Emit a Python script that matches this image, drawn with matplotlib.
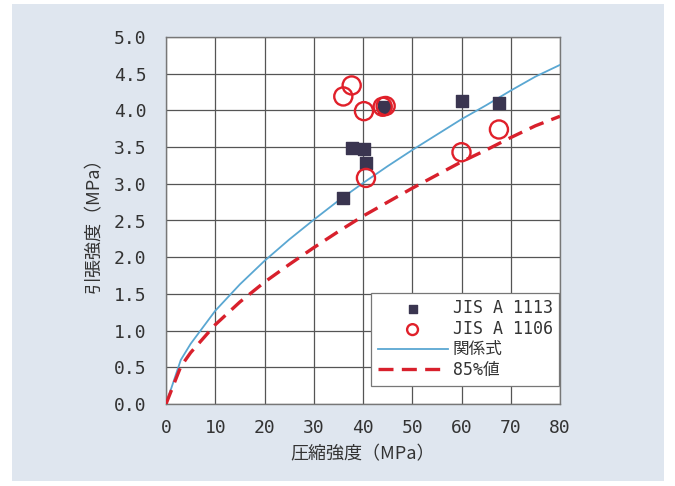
import numpy as np
import matplotlib.pyplot as plt
from matplotlib.patches import Rectangle

# 圧縮強度 - 引張強度
jis1113_x = [36.0, 37.8, 40.2, 40.6, 44.3, 60.0, 67.6]
jis1113_y = [2.80, 3.49, 3.48, 3.29, 4.05, 4.13, 4.10]

jis1106_x = [36.0, 37.7, 40.2, 40.6, 44.0, 44.6, 60.0, 67.6]
jis1106_y = [4.19, 4.34, 3.99, 3.08, 4.05, 4.06, 3.43, 3.74]

curve_x = [0, 3, 5, 10, 15, 20, 25, 30, 35, 40, 45, 50, 55, 60, 65, 70, 75, 80]
rel_y = [0, 0.60, 0.82, 1.27, 1.63, 1.95, 2.24, 2.51, 2.77, 3.01, 3.24, 3.46, 3.67,
         3.88, 4.07, 4.27, 4.46, 4.62]
p85_y = [0, 0.51, 0.70, 1.08, 1.39, 1.66, 1.90, 2.13, 2.35, 2.56, 2.75, 2.94, 3.12,
         3.30, 3.46, 3.63, 3.79, 3.92]

num_font = ['DejaVu Sans Mono', 'Noto Sans CJK JP']
jp_font = ['Noto Sans CJK JP', 'DejaVu Sans']

fig = plt.figure(figsize=(6.75, 4.86), dpi=100)
fig.patch.set_facecolor('white')
fig.add_artist(Rectangle((12 / 675, 1 - 481 / 486), 652 / 675, 477 / 486,
                         transform=fig.transFigure, facecolor='#dfe6ef',
                         edgecolor='none', zorder=-10))

ax = fig.add_axes([166 / 675, 1 - 404 / 486, 394 / 675, 367 / 486])
ax.set_zorder(1)
ax.set_facecolor('white')

ax.plot(curve_x, rel_y, color='#5aa7d2', lw=1.3, label='関係式', zorder=3)
ax.plot(curve_x, p85_y, color='#d8202c', lw=2.4, ls=(0, (4.5, 2.5)), label='85%値', zorder=3)
ax.scatter(jis1113_x, jis1113_y, marker='s', s=75, color='#3a3550', label='JIS A 1113', zorder=4)
ax.scatter(jis1106_x, jis1106_y, marker='o', s=170, facecolors='none', edgecolors='#e0202a',
           linewidths=1.7, label='JIS A 1106', zorder=5)

ax.set_xlim(0, 80)
ax.set_ylim(0, 5)
ax.set_xticks(np.arange(0, 81, 10))
ax.set_yticks(np.arange(0, 5.01, 0.5))
ax.set_yticklabels(['%.1f' % v for v in np.arange(0, 5.01, 0.5)])
ax.grid(True, color='#555555', lw=0.9)
ax.tick_params(length=0, labelsize=13, labelcolor='#333333')
ax.tick_params(axis='x', pad=11)
ax.tick_params(axis='y', pad=14)
for lab in ax.get_xticklabels() + ax.get_yticklabels():
    lab.set_family(num_font)
for sp in ax.spines.values():
    sp.set_color('#777777')
    sp.set_linewidth(1.0)

ax.set_xlabel('圧縮強度（MPa）', family=jp_font, fontsize=13, color='#333333', labelpad=6)
ax.set_ylabel('引張強度（MPa）', family=jp_font, fontsize=13, color='#333333', labelpad=8)

h, l = ax.get_legend_handles_labels()
order = [2, 3, 0, 1]
leg = ax.legend([h[i] for i in order], [l[i] for i in order], loc='lower left',
                bbox_to_anchor=(0.52, 0.05), borderaxespad=0, fancybox=False, framealpha=1,
                edgecolor='#777777', handlelength=4.2, handletextpad=0.3,
                labelspacing=0.15, borderpad=0.4, markerscale=0.6,
                prop={'family': num_font, 'size': 12})
leg.get_frame().set_linewidth(0.9)
for t in leg.get_texts():
    t.set_color('#333333')

fig.savefig('out.png', dpi=100)
